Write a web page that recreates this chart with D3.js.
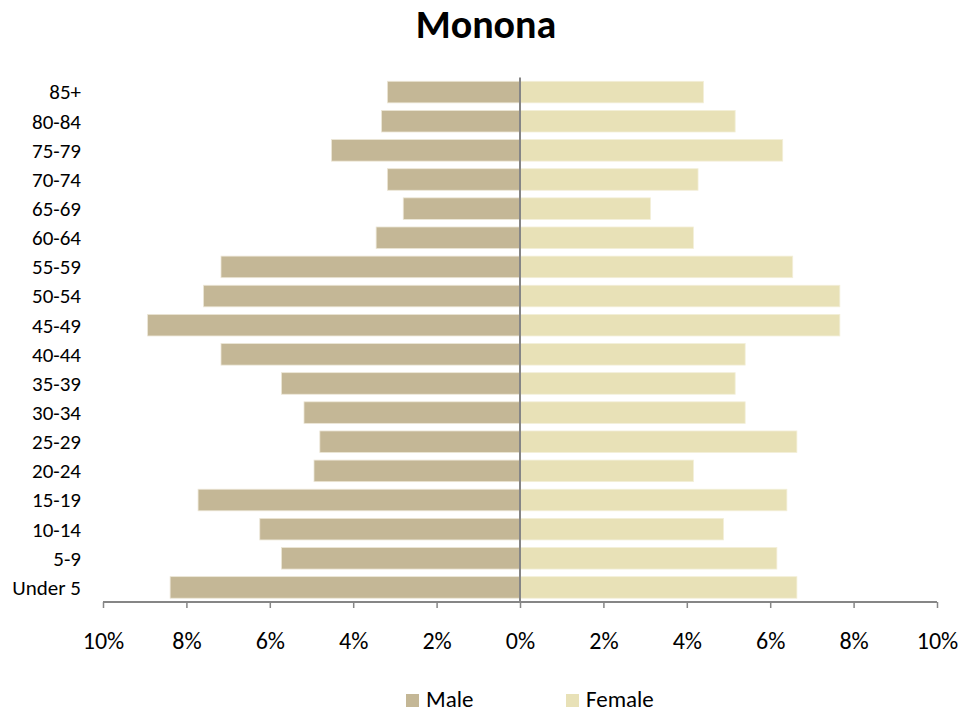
<!DOCTYPE html>
<html>
<head>
<meta charset="utf-8">
<script src="https://cdn.jsdelivr.net/npm/d3@7"></script>
<style>
  body { margin: 0; background: #fff; }
  text { font-family: Carlito, Lato, "Liberation Sans", sans-serif; fill: #000; }
</style>
</head>
<body>
<script>
// Age groups, top to bottom as drawn
var ageGroups = ["85+", "80-84", "75-79", "70-74", "65-69", "60-64", "55-59", "50-54", "45-49",
                 "40-44", "35-39", "30-34", "25-29", "20-24", "15-19", "10-14", "5-9", "Under 5"];

// Share of population (%)
var maleValues = [3.18, 3.32, 4.52, 3.18, 2.80, 3.45, 7.17, 7.59, 8.93,
                  7.17, 5.72, 5.18, 4.80, 4.94, 7.72, 6.24, 5.72, 8.39];
var femaleValues = [4.40, 5.16, 6.30, 4.27, 3.13, 4.16, 6.54, 7.67, 7.67,
                    5.40, 5.16, 5.40, 6.64, 4.16, 6.40, 4.88, 6.16, 6.64];

var xTicks = [-10, -8, -6, -4, -2, 0, 2, 4, 6, 8, 10];

var maleColor = "#C4B796",
    femaleColor = "#E8E1B7";

var W = 979, H = 713;
var margin = {top: 77.5, right: 42, bottom: 111, left: 103},
    width = W - margin.left - margin.right,
    height = H - margin.top - margin.bottom;

var svg = d3.select("body").append("svg")
            .attr("width", W)
            .attr("height", H);

var g = svg.append("g")
           .attr("transform", "translate(" + margin.left + "," + margin.top + ")");

var xScale = d3.scaleLinear().domain([-10, 10]).range([0, width]);
var yScale = d3.scaleBand().domain(ageGroups).range([0, height]).paddingInner(0.26).paddingOuter(0.13);

// Title
svg.append("text")
   .attr("x", 486)
   .attr("y", 38)
   .attr("text-anchor", "middle")
   .style("font-weight", "bold")
   .style("font-size", "40px")
   .text("Monona");

// Male bars (left)
g.selectAll(".male")
 .data(ageGroups)
 .enter()
 .append("rect")
 .attr("class", "male")
 .attr("x", (d, i) => xScale(-maleValues[i]))
 .attr("y", d => yScale(d))
 .attr("width", (d, i) => xScale(0) - xScale(-maleValues[i]))
 .attr("height", yScale.bandwidth())
 .attr("fill", maleColor)
 .attr("stroke", "#ece6d6")
 .attr("stroke-width", 0.8);

// Female bars (right)
g.selectAll(".female")
 .data(ageGroups)
 .enter()
 .append("rect")
 .attr("class", "female")
 .attr("x", xScale(0))
 .attr("y", d => yScale(d))
 .attr("width", (d, i) => xScale(femaleValues[i]) - xScale(0))
 .attr("height", yScale.bandwidth())
 .attr("fill", femaleColor)
 .attr("stroke", "#f3efd9")
 .attr("stroke-width", 0.8);

// Category labels
g.selectAll(".cat")
 .data(ageGroups)
 .enter()
 .append("text")
 .attr("class", "cat")
 .attr("x", -22)
 .attr("y", d => yScale(d) + yScale.bandwidth() / 2)
 .attr("dy", "0.35em")
 .attr("text-anchor", "end")
 .style("font-size", "21px")
 .text(d => d);

// Center line
g.append("line")
 .attr("x1", xScale(0)).attr("x2", xScale(0))
 .attr("y1", 0).attr("y2", height)
 .attr("stroke", "#868686")
 .attr("stroke-width", 2);

// X axis
var xAxis = d3.axisBottom(xScale)
              .tickValues(xTicks)
              .tickSize(6)
              .tickPadding(24)
              .tickFormat(d => Math.abs(d) + "%");

var ax = g.append("g")
          .attr("transform", "translate(0," + height + ")")
          .call(xAxis);

ax.select(".domain")
  .attr("stroke", "#868686")
  .attr("stroke-width", 2)
  .attr("d", "M0,0H" + width);
ax.selectAll(".tick line")
  .attr("stroke", "#868686")
  .attr("stroke-width", 1.5);
ax.selectAll(".tick text")
  .style("font-size", "24px")
  .attr("fill", "#000");

// Legend
var legend = [{name: "Male", color: maleColor, x: 406},
              {name: "Female", color: femaleColor, x: 566}];

var lg = svg.selectAll(".legend")
            .data(legend)
            .enter()
            .append("g")
            .attr("class", "legend");

lg.append("rect")
  .attr("x", d => d.x)
  .attr("y", 694)
  .attr("width", 13)
  .attr("height", 13)
  .attr("fill", d => d.color);

lg.append("text")
  .attr("x", d => d.x + 20)
  .attr("y", 707)
  .style("font-size", "23px")
  .text(d => d.name);
</script>
</body>
</html>
